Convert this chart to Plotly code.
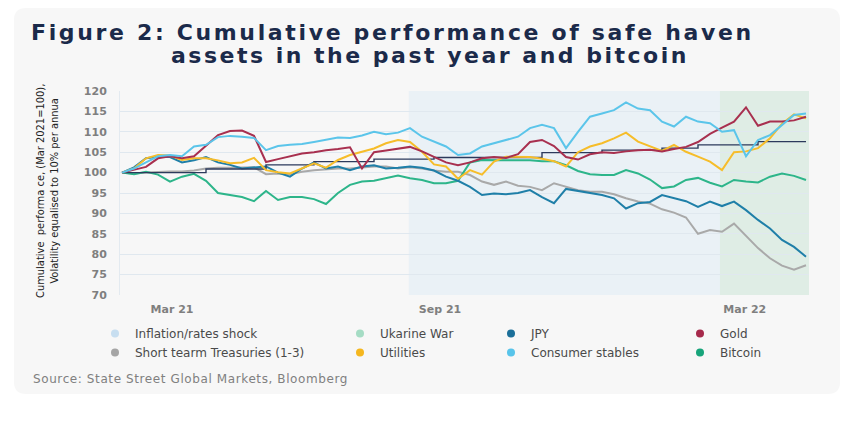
import plotly.graph_objects as go

# ---------------- data (weekly observations, index 0..57) ----------------
weeks = list(range(58))

gold = [100, 100.7, 101.4, 103.5, 104, 103.5, 104, 106.6, 109.2, 110.2,
        110.3, 109, 102.6, 103.3, 104, 104.7, 105, 105.5, 105.8, 106.2,
        101, 105, 105.4, 105.8, 106.3, 105.2, 103.8, 102.5, 101.8, 102.5,
        103.5, 103.8, 103.6, 104.5, 107.5, 108, 106.5, 103.8, 103.2, 104.5,
        105, 104.8, 105.2, 105.5, 105.6, 105.2, 105.8, 106.3, 107.5, 109.5,
        111, 112.5, 116, 111.5, 112.5, 112.5, 112.8, 113.7]

consumer_staples = [100, 101, 102.5, 104, 104.3, 104, 106.4, 106.8, 108.7, 109,
                    108.8, 108.5, 105.5, 106.5, 106.8, 107, 107.5, 108, 108.6, 108.5,
                    109.1, 110, 109.4, 109.8, 110.9, 108.8, 107.6, 106.4, 104.3, 104.7,
                    106.4, 107.2, 108, 108.8, 110.9, 111.7, 110.9, 106, 110, 113.7,
                    114.5, 115.3, 117.2, 115.7, 115.3, 112.5, 111.3, 113.7, 112.5, 112.1,
                    110, 110.4, 104, 108, 109.2, 111.7, 114.1, 114.5]

utilities = [100, 101, 103.5, 104.3, 104.2, 103.1, 103.5, 103.5, 103, 102.3,
             102.5, 103.6, 100.6, 100.1, 99.8, 101, 102.3, 101.2, 103.1, 104.3,
             105.1, 105.9, 107.2, 108, 107.5, 105.1, 102, 101.5, 98.5, 100.6,
             99.5, 102.7, 103.9, 103.9, 103.8, 103.4, 102.8, 101.5, 105, 106.4,
             107.2, 108.4, 109.8, 107.6, 106.5, 105.3, 106.8, 105.1, 103.9, 102.7,
             100.6, 105, 105.2, 106, 108.4, 112, 114.3, 113.3]

jpy = [100, 101.3, 103.5, 103.9, 103.8, 102.5, 103, 103.8, 102.5, 101.9,
       101, 101.2, 101.5, 100, 99, 101, 102.5, 101, 101.5, 100.6,
       101.5, 101.8, 101, 101.2, 101.5, 101.2, 100.5, 99, 98, 96.5,
       94.5, 94.9, 94.7, 95, 95.7, 94, 92.5, 96, 95.5, 94.9,
       94.5, 93.7, 91.2, 92.5, 92.8, 94.5, 93.7, 93, 91.6, 92.9,
       91.8, 92.9, 90.8, 88.4, 86.3, 83.5, 81.8, 79.4]

short_treasuries = [100, 99.8, 100, 100.2, 100.3, 100.3, 100.5, 101, 101.2, 101.2,
                    101.3, 101.3, 99.6, 99.8, 99.6, 100.2, 100.6, 100.8, 101, 101,
                    101.2, 101.5, 101.5, 101, 101.3, 101, 100.5, 100.2, 100.2, 99.4,
                    97.8, 97, 97.8, 96.8, 96.5, 95.7, 97.4, 96.5, 95.7, 95.3,
                    95.3, 94.7, 93.7, 92.9, 92.4, 91, 90.2, 89, 85, 85.9,
                    85.5, 87.5, 84.5, 81.5, 79, 77.2, 76.2, 77.3]

bitcoin = [100, 99.6, 100.2, 99.5, 97.8, 99, 99.7, 98, 95, 94.5,
           94, 93, 95.5, 93.3, 94, 94, 93.5, 92.3, 95, 97,
           97.8, 98, 98.6, 99.3, 98.6, 98.2, 97.4, 97.4, 98, 102.5,
           103.1, 103, 103, 103, 103, 102.8, 102.8, 101.8, 100.4, 99.6,
           99.4, 99.4, 100.6, 99.8, 98.3, 96.2, 96.6, 98.2, 98.7, 97.5,
           96.6, 98.2, 97.8, 97.6, 99, 99.8, 99.2, 98.2]

benchmark_step = [100, 100, 100, 100, 100, 100, 100, 100.9, 100.9, 100.9,
                  100.9, 100.9, 101.9, 101.9, 101.9, 101.9, 102.7, 102.7, 102.7, 102.7,
                  102.7, 103.3, 103.3, 103.3, 103.3, 103.3, 103.7, 103.7, 103.7, 103.7,
                  103.7, 103.7, 103.7, 103.7, 103.7, 104.9, 104.9, 104.9, 104.9, 104.9,
                  105.5, 105.5, 105.5, 105.5, 105.5, 106, 106, 106, 106.8, 106.8,
                  106.8, 106.8, 106.8, 107.6, 107.6, 107.6, 107.6, 107.6]

x_tick_weeks = [4.17, 26.5, 51.9]
x_tick_labels = ["Mar 21", "Sep 21", "Mar 22"]
y_ticks = [70, 75, 80, 85, 90, 95, 100, 105, 110, 115, 120]
inflation_shock_weeks = [23.9, 49.83]
ukraine_war_weeks = [49.83, 57.25]

legend_labels = [["Inflation/rates shock", "Short tearm Treasuries (1-3)"],
                 ["Ukarine War", "Utilities"],
                 ["JPY", "Consumer stables"],
                 ["Gold", "Bitcoin"]]

# ---------------- styling ----------------
W, H = 853, 432
L, R, T, B = 120, 44, 91, 137
PW, PH = W - L - R, H - T - B


def px(x):
    return (x - L) / PW


def py(y):
    return (H - B - y) / PH


C_GOLD = "#a8304f"
C_STAPLES = "#5bc5ea"
C_UTIL = "#f6bd2a"
C_JPY = "#1f7fa8"
C_TREAS = "#a9a9a9"
C_BTC = "#2db58a"
C_NAVY = "#2c3a5c"

legend_colors = {"Inflation/rates shock": "#c7def0", "Ukarine War": "#a5dcc4",
                 "JPY": "#1b6f99", "Gold": "#a6294b",
                 "Short tearm Treasuries (1-3)": "#a5a5a5", "Utilities": "#f5b71f",
                 "Consumer stables": "#58c4ea", "Bitcoin": "#17a47a"}

fig = go.Figure()

lines = [(short_treasuries, C_TREAS, "Short tearm Treasuries (1-3)", 2),
         (bitcoin, C_BTC, "Bitcoin", 2),
         (jpy, C_JPY, "JPY", 2),
         (benchmark_step, C_NAVY, "benchmark", 1.4),
         (utilities, C_UTIL, "Utilities", 2),
         (gold, C_GOLD, "Gold", 2),
         (consumer_staples, C_STAPLES, "Consumer stables", 2)]

for vals, col, name, w in lines:
    fig.add_trace(go.Scatter(x=weeks, y=vals, mode="lines", name=name, legendgroup=name,
                             line=dict(color=col, width=w, shape="hv" if name == "benchmark" else "linear"),
                             showlegend=False))

legend_font = dict(family="DejaVu Sans", size=12, color="#4a4a4a")
legend_x = [95, 340, 491, 680]
for k, (labels, lx) in enumerate(zip(legend_labels, legend_x)):
    lname = "legend" if k == 0 else f"legend{k+1}"
    for lab in labels:
        fig.add_trace(go.Scatter(x=[None], y=[None], mode="markers", name=lab, legendgroup=lab,
                                 marker=dict(color=legend_colors[lab], size=8, symbol="circle"),
                                 legend=lname, showlegend=True))
    fig.update_layout({lname: dict(x=px(lx), y=py(319), xanchor="left", yanchor="top",
                                   orientation="v", bgcolor="rgba(0,0,0,0)", borderwidth=0,
                                   font=legend_font, tracegroupgap=0, itemclick=False)})

# card background with rounded corners
x0, x1, y0, y1 = px(14), px(840), py(394), py(8)
rx, ry = 12 / PW, 12 / PH
card = (f"M {x0+rx},{y1} L {x1-rx},{y1} Q {x1},{y1} {x1},{y1-ry} L {x1},{y0+ry} "
        f"Q {x1},{y0} {x1-rx},{y0} L {x0+rx},{y0} Q {x0},{y0} {x0},{y0+ry} "
        f"L {x0},{y1-ry} Q {x0},{y1} {x0+rx},{y1} Z")
shapes = [dict(type="path", path=card, xref="paper", yref="paper", fillcolor="#f7f7f7",
               line=dict(width=0), layer="below"),
          dict(type="rect", xref="x", yref="y", x0=inflation_shock_weeks[0], x1=inflation_shock_weeks[1],
               y0=70, y1=120, fillcolor="#eaf1f6", line=dict(width=0), layer="below"),
          dict(type="rect", xref="x", yref="y", x0=ukraine_war_weeks[0], x1=ukraine_war_weeks[1],
               y0=70, y1=120, fillcolor="#dfede5", line=dict(width=0), layer="below")]

title_font = dict(family="DejaVu Sans", size=22, color="#1b2a4a", weight="bold")
annotations = [
    dict(text='<span style="letter-spacing:2.65px">Figure 2: Cumulative performance of safe haven</span>',
         x=px(29), y=py(33), xref="paper", yref="paper", xanchor="left", yanchor="middle",
         showarrow=False, font=title_font),
    dict(text='<span style="letter-spacing:2.5px">assets in the past year and bitcoin</span>',
         x=px(169), y=py(56), xref="paper", yref="paper", xanchor="left", yanchor="middle",
         showarrow=False, font=title_font),
    dict(text="Cumulative  performa ce, (Mar 2021=100),<br>Volatility equalised to 10% per annua",
         x=px(47), y=py(191), xref="paper", yref="paper", xanchor="center", yanchor="middle",
         textangle=-90, showarrow=False,
         font=dict(family="Liberation Sans Narrow, DejaVu Sans Condensed, Liberation Sans", size=11, color="#222222")),
    dict(text='<span style="letter-spacing:0.6px">Source: State Street Global Markets, Bloomberg</span>',
         x=px(31), y=py(379), xref="paper", yref="paper", xanchor="left", yanchor="middle",
         showarrow=False, font=dict(family="DejaVu Sans", size=12, color="#808080")),
]

tick_font = dict(family="DejaVu Sans", size=11, color="#7f7f7f", weight="bold")
fig.update_layout(
    width=W, height=H, autosize=False,
    margin=dict(l=L, r=R, t=T, b=B, pad=0, autoexpand=False),
    paper_bgcolor="#ffffff", plot_bgcolor="rgba(0,0,0,0)",
    shapes=shapes, annotations=annotations,
    xaxis=dict(range=[-0.167, 57.25], showgrid=False, zeroline=False, showline=False,
               tickmode="array", tickvals=x_tick_weeks, ticktext=x_tick_labels,
               ticks="", tickfont=tick_font, ticklabelstandoff=6, fixedrange=True),
    yaxis=dict(range=[70, 120], tickmode="array", tickvals=y_ticks, showgrid=True,
               gridcolor="#e0e8ef", gridwidth=1, zeroline=False, showline=True,
               linecolor="#e3eaf0", linewidth=1, ticks="", tickfont=tick_font,
               ticklabelstandoff=10, fixedrange=True),
    hovermode=False,
)

fig.write_html("out.html", config={"displayModeBar": False},
               post_script="document.body.style.margin='0px';")
